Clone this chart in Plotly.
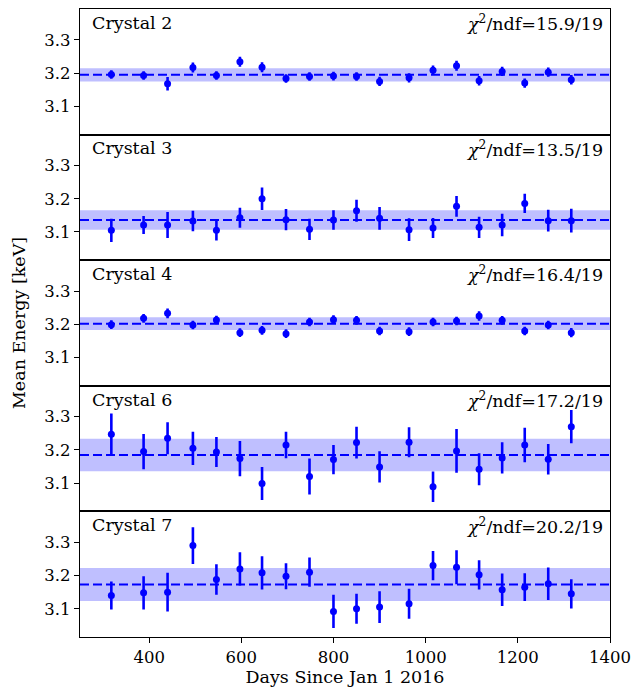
import plotly.graph_objects as go
from plotly.subplots import make_subplots

days = [318, 388, 440, 495, 546, 597, 645, 697, 748, 800,
        850, 900, 964, 1016, 1067, 1116, 1166, 1215, 1266, 1316]

crystal_names = ["Crystal 2", "Crystal 3", "Crystal 4", "Crystal 6", "Crystal 7"]
chi2_labels = ["15.9/19", "13.5/19", "16.4/19", "17.2/19", "20.2/19"]

c2_vals = [3.196, 3.193, 3.168, 3.217, 3.193, 3.234, 3.218, 3.184, 3.190, 3.191,
           3.190, 3.175, 3.186, 3.209, 3.222, 3.177, 3.205, 3.170, 3.203, 3.180]
c2_errs = [0.013, 0.013, 0.020, 0.015, 0.013, 0.015, 0.015, 0.013, 0.013, 0.013,
           0.013, 0.014, 0.014, 0.014, 0.015, 0.014, 0.014, 0.014, 0.014, 0.014]

c3_vals = [3.105, 3.121, 3.121, 3.133, 3.105, 3.143, 3.200, 3.137, 3.108, 3.136,
           3.164, 3.141, 3.107, 3.112, 3.177, 3.114, 3.121, 3.186, 3.134, 3.134]
c3_errs = [0.035, 0.027, 0.039, 0.031, 0.031, 0.030, 0.034, 0.032, 0.032, 0.029,
           0.033, 0.034, 0.034, 0.030, 0.031, 0.032, 0.034, 0.029, 0.033, 0.036]

c4_vals = [3.199, 3.218, 3.233, 3.198, 3.213, 3.175, 3.182, 3.172, 3.207, 3.214,
           3.212, 3.180, 3.178, 3.207, 3.210, 3.225, 3.212, 3.180, 3.198, 3.175]
c4_errs = [0.013, 0.013, 0.015, 0.013, 0.013, 0.013, 0.013, 0.013, 0.013, 0.013,
           0.013, 0.013, 0.013, 0.013, 0.013, 0.014, 0.013, 0.013, 0.013, 0.014]

c6_vals = [3.247, 3.195, 3.235, 3.205, 3.194, 3.174, 3.099, 3.215, 3.120, 3.171,
           3.222, 3.149, 3.223, 3.089, 3.197, 3.142, 3.176, 3.215, 3.172, 3.270]
c6_errs = [0.063, 0.053, 0.048, 0.050, 0.045, 0.053, 0.050, 0.040, 0.054, 0.044,
           0.048, 0.047, 0.045, 0.046, 0.066, 0.048, 0.047, 0.052, 0.046, 0.050]

c7_vals = [3.140, 3.148, 3.150, 3.290, 3.188, 3.220, 3.208, 3.198, 3.210, 3.092,
           3.100, 3.105, 3.115, 3.230, 3.225, 3.202, 3.157, 3.165, 3.175, 3.145]
c7_errs = [0.042, 0.050, 0.058, 0.055, 0.046, 0.050, 0.050, 0.039, 0.044, 0.050,
           0.045, 0.048, 0.045, 0.044, 0.051, 0.044, 0.049, 0.042, 0.049, 0.044]

fit_means = [3.195, 3.136, 3.202, 3.185, 3.173]
fit_sigmas = [0.020, 0.029, 0.019, 0.049, 0.050]

y_ticks = [3.1, 3.2, 3.3]
x_ticks = [400, 600, 800, 1000, 1200, 1400]
x_range = [250, 1400]
y_range = [3.015, 3.393]

all_vals = [c2_vals, c3_vals, c4_vals, c6_vals, c7_vals]
all_errs = [c2_errs, c3_errs, c4_errs, c6_errs, c7_errs]

FONT = "DejaVu Serif"
BLUE = "#0000ff"
TXT = 17.5
TICK = 16.5

fig = make_subplots(rows=5, cols=1, shared_xaxes=True, vertical_spacing=0)

for i in range(5):
    r = i + 1
    m, s = fit_means[i], fit_sigmas[i]
    xd = "x domain" if r == 1 else f"x{r} domain"
    yd = "y domain" if r == 1 else f"y{r} domain"
    yr = "y" if r == 1 else f"y{r}"
    fig.add_shape(type="rect", xref=xd, yref=yr,
                  x0=0, x1=1, y0=m - s, y1=m + s,
                  fillcolor="rgba(0,0,255,0.25)", line_width=0, layer="below")
    fig.add_trace(go.Scatter(
        x=days, y=all_vals[i], mode="markers",
        marker=dict(color=BLUE, size=7),
        error_y=dict(type="data", array=all_errs[i], color=BLUE, thickness=2.6, width=0),
        showlegend=False), row=r, col=1)
    fig.add_shape(type="line", xref=xd, yref=yr,
                  x0=0, x1=1, y0=m, y1=m,
                  line=dict(color=BLUE, width=2, dash="9px,4px"), layer="above")
    fig.add_annotation(xref=xd, yref=yd, x=0.019, y=0.985, xanchor="left", yanchor="top",
                       text=crystal_names[i], showarrow=False,
                       font=dict(family=FONT, size=TXT, color="black"))
    fig.add_annotation(xref=xd, yref=yd, x=0.99, y=0.99, xanchor="right", yanchor="top",
                       text="<i>χ</i><sup>2</sup>/ndf=" + chi2_labels[i], showarrow=False,
                       font=dict(family=FONT, size=TXT, color="black"))
    fig.update_yaxes(range=y_range, tickvals=y_ticks, ticktext=[f"{v:.1f}" for v in y_ticks],
                     ticks="outside", ticklen=5, tickwidth=1, tickcolor="black",
                     showline=True, mirror=True, linecolor="black", linewidth=1.2,
                     showgrid=False, zeroline=False,
                     tickfont=dict(family=FONT, size=TICK, color="black"), row=r, col=1)
    fig.update_xaxes(range=x_range, tickvals=x_ticks,
                     ticks="outside" if r == 5 else "", ticklen=5, tickwidth=1, tickcolor="black",
                     showline=True, mirror=True, linecolor="black", linewidth=1.2,
                     showgrid=False, zeroline=False, showticklabels=(r == 5),
                     ticklabeloverflow="allow",
                     tickfont=dict(family=FONT, size=TICK, color="black"), row=r, col=1)

fig.update_xaxes(title=dict(text="Days Since Jan 1 2016", standoff=0,
                            font=dict(family=FONT, size=TXT, color="black")), row=5, col=1)

fig.add_annotation(xref="paper", yref="paper", x=-0.115, y=0.5, xanchor="center", yanchor="middle",
                   text="Mean Energy [keV]", textangle=-90, showarrow=False,
                   font=dict(family=FONT, size=TXT, color="black"))

fig.update_layout(width=639, height=687, margin=dict(l=80, r=19, t=8, b=50),
                  plot_bgcolor="white", paper_bgcolor="white",
                  font=dict(family=FONT, size=TICK, color="black"))

fig.write_html("out.html")
